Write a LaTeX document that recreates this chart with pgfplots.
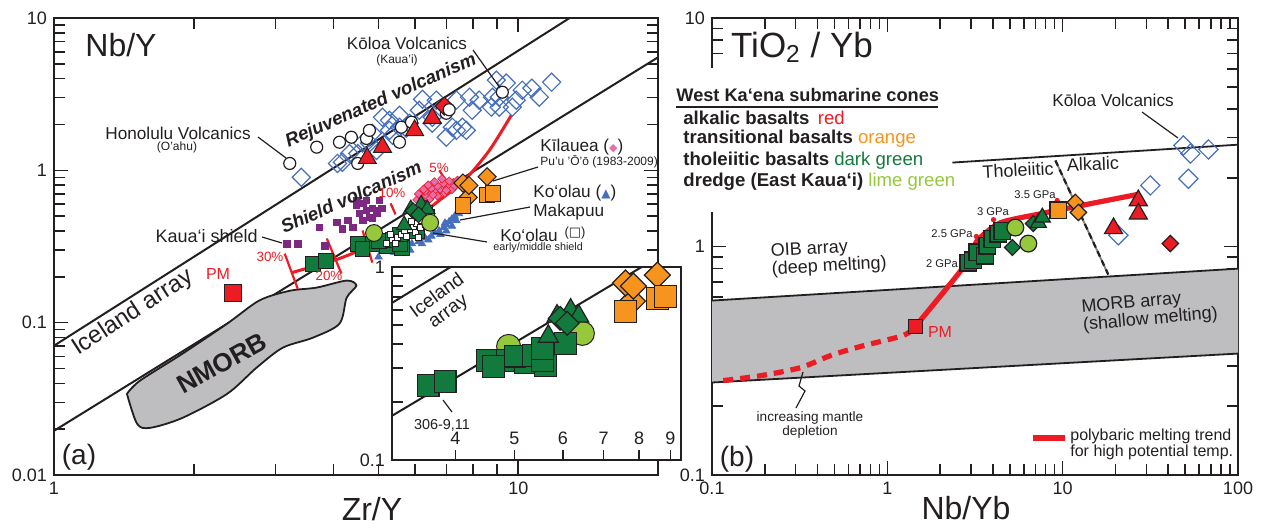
\documentclass[border=0pt]{standalone}
\usepackage{pgfplots}
\pgfplotsset{compat=1.18}
\usepackage{pgfplotstable}
\usepackage{fontspec}
\setmainfont{Liberation Sans}
\newfontfamily\dejavu{DejaVu Sans}
\newcommand\fs[1]{\fontsize{#1}{#1}\selectfont}
\definecolor{cred}{RGB}{237,28,36}
\definecolor{corange}{RGB}{247,148,29}
\definecolor{cdg}{RGB}{18,122,60}
\definecolor{clime}{RGB}{150,200,60}
\definecolor{cpurple}{RGB}{125,40,130}
\definecolor{cblue}{RGB}{70,110,190}
\definecolor{cpink}{RGB}{232,110,170}
\definecolor{cgrey}{RGB}{190,190,192}
\definecolor{ctext}{RGB}{35,31,32}
\pgfplotsset{
  mybase/.style={scale only axis, anchor=south west,
    axis line style={line width=1.4pt, draw=ctext},
    every tick/.style={draw=ctext, line width=0.8pt},
    major tick length=7pt, minor tick length=5.5pt,
    tick label style={font=\fs{9}, text=ctext}, clip=true},
  mymk/.style n args={3}{only marks, mark=#1, mark size=#2, mark options={solid, #3}},
}
% ---------- panel (a) data ----------
\pgfplotstableread{
x y
3.61 0.243
3.85 0.255
4.51 0.328
4.86 0.328
4.62 0.305
5.21 0.320
5.01 0.345
5.37 0.348
5.62 0.309
5.56 0.328
5.56 0.379
6.06 0.402
}\greensq
\pgfplotstableread{
x y
5.68 0.437
5.87 0.556
6.18 0.597
6.37 0.556
}\greentri
\pgfplotstableread{
x y
5.94 0.542
6.10 0.511
}\greendia
\pgfplotstableread{
x y
4.89 0.388
6.46 0.453
}\limeci
\pgfplotstableread{
x y
7.60 0.590
8.57 0.690
8.83 0.706
}\orsq
\pgfplotstableread{
x y
7.80 0.665
7.60 0.826
7.83 0.796
8.57 0.908
}\ordia
\begin{document}
\begin{tikzpicture}
\path[use as bounding box] (0,0) rectangle (633pt,-263.5pt);
% ================= panel (a) =================
\begin{axis}[mybase, xmode=log, ymode=log, at={(27pt,-237.5pt)}, width=302pt, height=228.5pt,
  xmin=1, xmax=20, ymin=0.01, ymax=10,
  xtick={1,10}, xticklabels={1,10}, minor xtick={2,3,4,5,6,7,8,9},
  ytick={0.01,0.1,1,10}, yticklabels={0.01,0.1,1,10},
  minor ytick={0.02,0.03,0.04,0.05,0.06,0.07,0.08,0.09,0.2,0.3,0.4,0.5,0.6,0.7,0.8,0.9,2,3,4,5,6,7,8,9}]
\addplot[ctext, line width=1pt] coordinates {(1,0.0706) (12.9,10)};
\addplot[ctext, line width=1pt] coordinates {(1,0.0195) (20,5.52)};
\addplot[fill=cgrey, draw=ctext, line width=0.9pt, smooth, tension=0.5] coordinates {
 (1.436,0.0341) (1.51,0.0217) (1.61,0.0204) (1.89,0.0237) (2.36,0.0341) (2.73,0.0506)
 (3.11,0.0685) (3.61,0.0797) (4.12,0.0985) (4.27,0.146) (4.48,0.175) (4.27,0.189)
 (3.68,0.170) (3.22,0.162) (2.77,0.140) (2.36,0.0985) (1.89,0.0625) (1.53,0.0415) (1.436,0.0341)} --cycle;
% Koloa diamonds
\addplot[mymk={square}{3.2pt}{rotate=45, draw=cblue, line width=0.6pt}] coordinates {
 (3.41,0.90) (4.18,1.13) (4.51,1.29) (4.95,1.35) (4.78,1.51) (5.36,1.70) (5.74,1.89)
 (7.21,1.92) (7.73,1.83) (6.53,2.04) (4.08,1.11) (4.33,1.29) (4.62,1.51) (5.28,2.13)
 (5.55,2.30) (6.22,2.93) (6.12,2.48) (6.76,2.48) (7.36,2.89) (7.58,1.92) (7.85,3.02)
 (7.96,2.48) (8.24,2.89) (8.75,2.60) (9.10,3.02) (9.42,3.74) (9.90,2.89) (10.2,3.36)
 (10.7,3.46) (11.1,3.02) (11.8,3.79) (7.0,1.65) (7.36,1.83) (6.53,2.23) (5.83,2.04)
 (5.10,2.23) (5.55,1.92) (8.97,3.91) (9.10,2.60) (9.71,2.60) (8.8,3.02) (6.66,2.89)
 (4.85,1.75) (5.28,1.83)};
% Honolulu circles
\addplot[mymk={*}{3pt}{fill=white, draw=ctext, line width=0.6pt}] coordinates {
 (3.22,1.11) (3.68,1.42) (4.12,1.53) (4.37,1.65) (4.71,1.62) (4.78,1.83) (5.6,1.92)
 (5.55,1.53) (5.89,2.07) (4.51,1.11) (7.0,2.37) (9.24,3.26)};
\addplot[mymk={square*}{3.2pt}{rotate=45, fill=cred, draw=ctext, line width=0.5pt}] coordinates {(6.93,2.64)};
\addplot[mymk={*}{3pt}{fill=white, draw=ctext, line width=0.6pt}] coordinates {(7.1,2.5)};
\addplot[mymk={triangle*}{5.2pt}{fill=cred, draw=ctext, line width=0.5pt}] coordinates {
 (4.73,1.20) (5.10,1.42) (5.98,1.83) (6.53,2.20)};
% Kilauea
\addplot[mymk={square*}{1.5pt}{rotate=45, fill=cpink, draw=cred, line width=0.3pt}] coordinates {
 (6.05,0.64) (6.2,0.66) (6.35,0.68) (6.5,0.70) (6.65,0.72) (6.8,0.75) (6.95,0.77) (7.1,0.80)
 (7.25,0.83) (7.4,0.86) (6.1,0.70) (6.3,0.73) (6.5,0.76) (6.7,0.79) (6.9,0.82) (7.1,0.85)
 (6.2,0.62) (6.45,0.65) (6.7,0.68) (6.95,0.71) (7.2,0.75) (6.4,0.80) (6.6,0.84) (6.85,0.88)
 (7.0,0.74) (7.3,0.79) (6.25,0.75) (6.55,0.69)};
% Kauai shield purple
\addplot[mymk={square*}{1.7pt}{fill=cpurple, draw=cpurple}] coordinates {
 (3.17,0.331) (3.35,0.331) (3.73,0.422) (4.06,0.455) (4.18,0.415) (4.29,0.469) (4.40,0.422)
 (4.48,0.589) (4.62,0.607) (4.71,0.546) (4.85,0.562) (4.97,0.521) (5.08,0.562) (4.78,0.491)
 (4.55,0.521) (4.62,0.469) (4.85,0.483) (3.83,0.321) (4.48,0.635) (4.71,0.635) (4.95,0.546) (5.02,0.635)};
% Koolau Makapuu
\addplot[mymk={triangle*}{2.1pt}{fill=cblue, draw=cblue}] coordinates {
 (5.0,0.27) (5.4,0.29) (5.7,0.31) (5.9,0.33) (6.1,0.34) (6.3,0.36) (6.5,0.37) (6.6,0.39)
 (6.75,0.40) (6.9,0.42) (7.0,0.44) (7.1,0.46) (7.2,0.48) (7.3,0.50) (7.45,0.52) (6.4,0.35)
 (6.8,0.38) (7.0,0.40) (7.2,0.43) (6.2,0.33) (5.85,0.30) (7.35,0.47) (6.95,0.45)};
% green
\addplot[mymk={square*}{3.7pt}{fill=cdg, draw=ctext, line width=0.5pt}] table {\greensq};
% Koolau early shield
\addplot[mymk={square*}{1.5pt}{fill=white, draw=ctext, line width=0.5pt}] coordinates {
 (5.2,0.33) (5.35,0.35) (5.5,0.36) (5.6,0.38) (5.7,0.40) (5.85,0.41) (5.95,0.43) (6.05,0.45)
 (6.2,0.47) (6.35,0.50) (6.5,0.53) (5.45,0.33) (5.75,0.37) (6.0,0.39) (6.15,0.42) (6.3,0.44)
 (5.3,0.38) (5.65,0.43) (5.9,0.46) (6.45,0.56) (6.1,0.36)};
\addplot[mymk={triangle*}{4.5pt}{fill=cdg, draw=ctext, line width=0.5pt}] table {\greentri};
\addplot[mymk={square*}{2.8pt}{rotate=45, fill=cdg, draw=ctext, line width=0.5pt}] table {\greendia};
\addplot[mymk={*}{4.2pt}{fill=clime, draw=ctext, line width=0.5pt}] table {\limeci};
\addplot[mymk={square*}{3.2pt}{rotate=45, fill=corange, draw=ctext, line width=0.5pt}] table {\ordia};
\addplot[mymk={square*}{3.9pt}{fill=corange, draw=ctext, line width=0.5pt}] table {\orsq};
% melting curve
\addplot[cred, line width=1.5pt, smooth] coordinates {
 (3.25,0.213) (4.12,0.264) (4.78,0.321) (5.74,0.435) (6.76,0.635) (7.65,0.859) (8.66,1.35) (9.66,2.30)};
\addplot[cred, line width=1.1pt] coordinates {(3.14,0.284) (3.35,0.167)};
\addplot[cred, line width=1.1pt] coordinates {(3.87,0.357) (4.16,0.210)};
\addplot[cred, line width=1.1pt] coordinates {(4.62,0.403) (4.85,0.248)};
\addplot[cred, line width=1.1pt] coordinates {(5.31,0.607) (5.44,0.514)};
\addplot[cred, line width=1.1pt] coordinates {(6.76,1.0) (7.21,0.738)};
\addplot[mymk={square*}{4.2pt}{fill=cred, draw=ctext, line width=0.5pt}] coordinates {(2.43,0.157)};
\end{axis}
% ================= inset =================
\begin{axis}[mybase, xmode=log, ymode=log, at={(196pt,-230pt)}, width=144.5pt, height=96.5pt,
  axis background/.style={fill=white},
  axis line style={line width=1.2pt, draw=ctext},
  xmin=3.15, xmax=9.37, ymin=0.1, ymax=1,
  xtick pos=bottom, ytick pos=left,
  xtick={4,5,6,7,8,9}, xticklabels={4,5,6,7,8,9},
  xticklabel style={anchor=south, yshift=4pt},
  ytick={0.1,1}, yticklabels={0.1,1},
  minor ytick={0.2,0.3,0.4,0.5,0.6,0.7,0.8,0.9},
  major tick length=5pt, minor tick length=5.5pt]
\addplot[ctext, line width=1pt] coordinates {(1,0.0706) (12.9,10)};
\addplot[ctext, line width=1pt] coordinates {(1,0.0195) (20,5.52)};
\addplot[mymk={*}{6pt}{fill=clime, draw=ctext, line width=0.5pt}] table {\limeci};
\addplot[mymk={square*}{5.4pt}{fill=cdg, draw=ctext, line width=0.6pt}] table {\greensq};
\addplot[mymk={triangle*}{5.8pt}{fill=cdg, draw=ctext, line width=0.6pt}] table {\greentri};
\addplot[mymk={square*}{4.2pt}{rotate=45, fill=cdg, draw=ctext, line width=0.6pt}] table {\greendia};
\addplot[mymk={square*}{4.6pt}{rotate=45, fill=corange, draw=ctext, line width=0.6pt}] table {\ordia};
\addplot[mymk={square*}{5.5pt}{fill=corange, draw=ctext, line width=0.6pt}] table {\orsq};
\end{axis}
% ================= panel (b) =================
\begin{axis}[mybase, xmode=log, ymode=log, at={(356pt,-237.5pt)}, width=263pt, height=228.5pt,
  xmin=0.1, xmax=100, ymin=0.1, ymax=10,
  xtick={0.1,1,10,100}, xticklabels={0.1,1,10,100},
  minor xtick={0.2,0.3,0.4,0.5,0.6,0.7,0.8,0.9,2,3,4,5,6,7,8,9,20,30,40,50,60,70,80,90},
  ytick={0.1,1,10}, yticklabels={0.1,1,10},
  minor ytick={0.2,0.3,0.4,0.5,0.6,0.7,0.8,0.9,2,3,4,5,6,7,8,9}]
\addplot[fill=cgrey, draw=none] coordinates {(0.1,0.58) (100,0.80) (100,0.34) (0.1,0.254)} --cycle;
\addplot[ctext, line width=0.9pt] coordinates {(0.1,0.58) (100,0.80)};
\addplot[ctext, line width=0.9pt] coordinates {(0.1,0.254) (100,0.34)};
\addplot[ctext, line width=0.9pt] coordinates {(2.35,2.33) (100,2.79)};
\addplot[gray, line width=0.9pt] coordinates {(9.09,2.38) (18.2,0.754)};
\addplot[ctext, line width=1.1pt, dash pattern=on 3pt off 2pt] coordinates {(9.09,2.38) (18.2,0.754)};
\addplot[cred, line width=2.6pt, dash pattern=on 5pt off 3.5pt, smooth] coordinates {
 (0.116,0.259) (0.189,0.272) (0.319,0.295) (0.473,0.333) (0.701,0.365) (1.23,0.408) (1.445,0.447)};
\addplot[cred, line width=2.6pt, smooth, tension=0.4] coordinates {
 (1.445,0.447) (2.71,0.81) (3.26,1.06) (4.41,1.27) (7.46,1.39) (9.7,1.45) (26.7,1.69)};
\addplot[mymk={*}{1.1pt}{fill=cred, draw=cred}] coordinates {(2.71,0.82) (3.22,1.106) (4.03,1.31) (9.3,1.59)};
\addplot[mymk={square*}{3.5pt}{fill=cred, draw=ctext, line width=0.5pt}] coordinates {(1.445,0.447)};
\addplot[mymk={square}{3.4pt}{rotate=45, draw=cblue, line width=0.6pt}] coordinates {
 (48.8,2.77) (53.5,2.55) (67.8,2.66) (52.1,1.98) (31.6,1.85) (20.8,1.12)};
\addplot[mymk={square*}{4.2pt}{fill=cdg, draw=ctext, line width=0.6pt}] coordinates {
 (2.90,0.851) (3.09,0.869) (3.26,0.942) (3.62,0.913) (3.72,1.01) (3.97,1.08) (4.30,1.14) (4.53,1.17)};
\addplot[mymk={square*}{2.8pt}{rotate=45, fill=cdg, draw=ctext, line width=0.6pt}] coordinates {(5.17,0.99) (6.8,1.26)};
\addplot[mymk={triangle*}{4.6pt}{fill=cdg, draw=ctext, line width=0.6pt}] coordinates {(7.27,1.27) (7.66,1.34)};
\addplot[mymk={*}{4.2pt}{fill=clime, draw=ctext, line width=0.6pt}] coordinates {(5.37,1.21) (6.37,1.03)};
\addplot[mymk={square*}{4.2pt}{fill=corange, draw=ctext, line width=0.6pt}] coordinates {(9.45,1.44)};
\addplot[mymk={square*}{2.9pt}{rotate=45, fill=corange, draw=ctext, line width=0.6pt}] coordinates {(11.8,1.56) (12.3,1.41)};
\addplot[mymk={triangle*}{5.2pt}{fill=cred, draw=ctext, line width=0.6pt}] coordinates {(27.0,1.59) (27.0,1.39) (19.5,1.20)};
\addplot[mymk={square*}{2.9pt}{rotate=45, fill=cred, draw=ctext, line width=0.6pt}] coordinates {(41.1,1.03)};
\end{axis}
% ================= annotations =================
\begin{scope}[x=0.5pt, y=-0.5pt, every node/.style={text=ctext, inner sep=0pt}]
% panel a
\node[font=\fs{16}] at (121,45) {Nb/Y};
\node[font=\fs{16}] at (372,509) {Zr/Y};
\node[font=\fs{14}] at (79,457) {(a)};
\node[font=\fs{12}, rotate=33] at (133,313) {Iceland array};
\node[font=\bfseries\fs{13}, rotate=29] at (222,363) {NMORB};
\node[font=\bfseries\itshape\fs{9.3}, rotate=24] at (381,101) {Rejuvenated volcanism};
\node[font=\bfseries\itshape\fs{9.3}, rotate=24] at (351,197) {Shield volcanism};
\node[font=\fs{8.6}] at (178,133) {Honolulu Volcanics};
\node[font=\fs{6}] at (177,147) {(O'ahu)};
\draw[ctext, line width=0.6pt] (258,137) -- (286,158);
\node[font=\fs{8.5}] at (407,43) {Kōloa Volcanics};
\node[font=\fs{6}] at (397,60) {(Kaua'i)};
\draw[ctext, line width=0.6pt] (473,50) -- (500,88);
\node[font=\fs{8.6}, anchor=west] at (540,147) {Kīlauea ({\dejavu\fs{5.5}\color{cpink}◆})};
\node[font=\fs{6}, anchor=west] at (540,162) {Pu'u 'Ō'ō (1983-2009)};
\draw[ctext, line width=0.6pt] (493,181) -- (538,167);
\node[font=\fs{8.6}, anchor=west] at (533,193) {Ko‘olau ({\dejavu\fs{6}\color{cblue}▲})};
\node[font=\fs{8.6}, anchor=west] at (533,212) {Makapuu};
\draw[ctext, line width=0.6pt] (460,220) -- (530,207);
\node[font=\fs{8.6}, anchor=west] at (500,235) {Ko‘olau};
\node[font=\fs{6.5}] at (575,233) {({\dejavu\fs{6.5}□})};
\node[font=\fs{5.4}, anchor=west] at (493,248) {early/middle shield};
\draw[ctext, line width=0.6pt] (433,233) -- (487,242);
\node[font=\fs{9}, anchor=east] at (258,236) {Kaua‘i shield};
\draw[ctext, line width=0.6pt] (262,237) -- (282,243);
\node[font=\fs{8}, text=cred] at (218,274) {PM};
\node[font=\fs{6.7}, text=cred] at (270,257) {30\%};
\node[font=\fs{6.7}, text=cred] at (329,276) {20\%};
\node[font=\fs{6.7}, text=cred] at (392,193) {10\%};
\node[font=\fs{6.7}, text=cred] at (439,168) {5\%};
\node[font=\fs{9.5}, rotate=36, align=center] at (443,304) {Iceland\\array};
\node[font=\fs{7.2}] at (442,425) {306-9,11};
\draw[ctext, line width=0.6pt] (443,400) -- (452,412);
% panel b
\fill[white] (703,68) rectangle (730,212);
\node[font=\fs{17.5}] at (802,47) {TiO\textsubscript{2} / Yb};
\node[font=\bfseries\fs{9.1}, anchor=west] at (676,95) {West Ka‘ena submarine cones};
\draw[ctext, line width=0.8pt] (676,107) -- (938,107);
\node[font=\bfseries\fs{9.3}, anchor=west] at (683,118) {alkalic basalts\hspace{0.45em}\mdseries\color{cred}red};
\node[font=\bfseries\fs{9.3}, anchor=west] at (683,139) {transitional basalts \mdseries\color{corange}orange};
\node[font=\bfseries\fs{9.3}, anchor=west] at (683,161) {tholeiitic basalts \mdseries\color{cdg}dark green};
\node[font=\bfseries\fs{9.3}, anchor=west] at (683,182) {dredge (East Kaua‘i) \mdseries\color{clime}lime green};
\node[font=\fs{9}, align=left, anchor=west, rotate=3] at (771,261) {\fontsize{9}{7.6}\selectfont OIB array\\(deep melting)};
\node[font=\fs{9}, align=left, anchor=west, rotate=5] at (1082,317) {\fontsize{9}{9}\selectfont MORB array\\(shallow melting)};
\node[font=\fs{8.6}] at (1113,100) {Kōloa Volcanics};
\draw[ctext, line width=0.6pt] (1142,112) -- (1178,138);
\node[font=\fs{9}, rotate=3] at (1018,170) {Tholeiitic};
\node[font=\fs{9}, rotate=2] at (1093,164) {Alkalic};
\node[font=\fs{5.6}] at (1035,195) {3.5 GPa};
\node[font=\fs{5.6}] at (993,212) {3 GPa};
\node[font=\fs{5.6}] at (952,234) {2.5 GPa};
\node[font=\fs{5.6}] at (942,264) {2 GPa};
\node[font=\fs{8}, text=cred] at (940,332) {PM};
\node[font=\fs{6.8}, align=center] at (810,425) {\fontsize{6.8}{7.5}\selectfont increasing mantle\\depletion};
\draw[ctext, line width=0.6pt] (803,372) -- (799,386) -- (805,391) -- (796,408);
\draw[cred, line width=2.6pt] (1033,438) -- (1065,438);
\node[font=\fs{8}, align=left, anchor=west] at (1070,444) {\fontsize{8}{8}\selectfont polybaric melting trend\\for high potential temp.};
\node[font=\fs{14}] at (737,459) {(b)};
\node[font=\fs{16}] at (966,508) {Nb/Yb};
\end{scope}
\end{tikzpicture}
\end{document}
